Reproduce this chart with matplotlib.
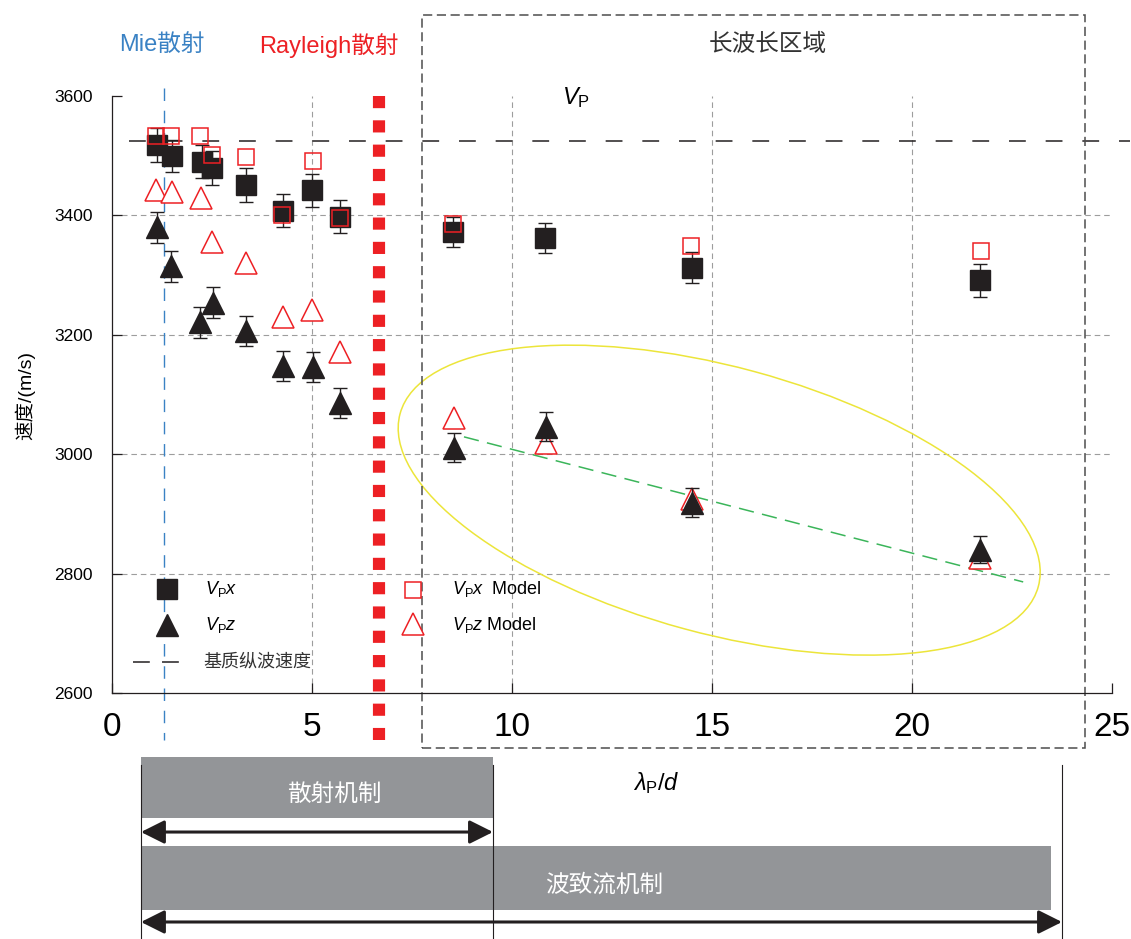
import numpy as np
import matplotlib
matplotlib.use('Agg')
import matplotlib.pyplot as plt
from matplotlib.patches import Ellipse, Rectangle
from matplotlib.transforms import ScaledTranslation

plt.rcParams['font.family'] = ['Liberation Sans', 'Noto Sans CJK SC']
plt.rcParams['mathtext.fontset'] = 'custom'
plt.rcParams['mathtext.rm'] = 'Liberation Sans'
plt.rcParams['mathtext.it'] = 'Liberation Sans:italic'
plt.rcParams['axes.unicode_minus'] = False

# 实测纵波速度 (波长/粒径)
lam_x = [1.12, 1.49, 2.24, 2.51, 3.35, 4.27, 5.01, 5.70, 8.53, 10.83, 14.49, 21.71]
vpx = [3518, 3499, 3490, 3479, 3451, 3408, 3442, 3398, 3372, 3362, 3312, 3291]
vpx_err = [28, 27, 28, 28, 28, 27, 28, 27, 25, 25, 26, 27]

lam_z = [1.13, 1.48, 2.21, 2.53, 3.35, 4.27, 5.03, 5.70, 8.54, 10.86, 14.49, 21.71]
vpz = [3380, 3315, 3221, 3254, 3206, 3148, 3146, 3086, 3011, 3046, 2919, 2840]
vpz_err = [26, 26, 26, 26, 25, 25, 25, 25, 24, 24, 24, 23]

# 模型计算值
lam_xm = [1.09, 1.48, 2.21, 2.50, 3.35, 4.26, 5.03, 5.70, 8.53, 14.48, 21.73]
vpx_model = [3533, 3533, 3533, 3501, 3498, 3401, 3491, 3395, 3386, 3349, 3340]
lam_zm = [1.11, 1.49, 2.22, 2.51, 3.35, 4.27, 5.01, 5.70, 8.54, 10.86, 14.49, 21.71]
vpz_model = [3443, 3439, 3429, 3355, 3320, 3230, 3241, 3171, 3061, 3018, 2925, 2826]

vp_matrix = 3525      # 基质纵波速度
mie_pos = 1.3
rayleigh_pos = 6.67
trend_x = [8.8, 22.78]
trend_y = [3029, 2786]

# 机制范围
mech_names = ['散射机制', '波致流机制']
mech_start = [0.725, 0.725]
mech_end = [9.525, 23.475]
arrow_end = [9.525, 23.75]

black = '#231f20'
red = '#ed2024'
blue = '#3a82c4'
gray = '#939598'
grid_c = '#9d9d9d'

fig = plt.figure(figsize=(11.31, 9.39), dpi=100)
ax = fig.add_axes([0.0990, 0.2620, 0.8842, 0.6358])
ax.set_xlim(0, 25)
ax.set_ylim(2600, 3600)
for s in ['top', 'right']:
    ax.spines[s].set_visible(False)
for s in ['left', 'bottom']:
    ax.spines[s].set_linewidth(0.9)
    ax.spines[s].set_color(black)
ax.tick_params(direction='in', length=7, width=0.9, color=black)
ax.set_xticks([0, 5, 10, 15, 20, 25])
ax.set_xticklabels(['0', '5', '10', '15', '20', '25'],
                   family=['Liberation Sans Narrow', 'Liberation Sans'], fontsize=24)
ax.tick_params(axis='x', pad=14)
ax.set_yticks([2600, 2800, 3000, 3200, 3400, 3600])
ax.tick_params(axis='y', labelsize=12.5, pad=14)

# 网格
for v in [5, 10, 15, 20]:
    ax.axvline(v, color=grid_c, lw=0.8, ls=(0, (5, 3.5)), zorder=0)
for v in [2800, 3000, 3200, 3400]:
    ax.axhline(v, color=grid_c, lw=0.8, ls=(0, (5, 3.5)), zorder=0)

# 基质速度线、散射分界线
ax.plot([0.42, 25.45], [vp_matrix, vp_matrix], color=black, lw=1.1,
        dashes=(11, 13), clip_on=False, zorder=1)
ax.plot([mie_pos, mie_pos], [3613, 2521], color=blue, lw=1.0,
        dashes=(9, 7), clip_on=False, zorder=1)
ax.plot([rayleigh_pos, rayleigh_pos], [3600, 2521], color=red, lw=8.75,
        dashes=(1, 1), dash_capstyle='butt', clip_on=False, zorder=1)

# 长波长区域
ax.add_patch(Rectangle((7.75, 2508), 24.33 - 7.75, 3736 - 2508, fill=False,
                       ec='#4d4d4d', lw=1.1, ls=(0, (6, 3)), clip_on=False, zorder=2))

# 椭圆和趋势线
ell = Ellipse((0, 0), width=6.612, height=2.666, angle=-15.15, fill=False,
              ec='#ece53a', lw=1.1,
              transform=fig.dpi_scale_trans + ScaledTranslation(15.18, 2923, ax.transData))
ax.add_patch(ell)
ax.plot(trend_x, trend_y, color='#3bb55a', lw=1.1, dashes=(10, 5.5), zorder=3)

# 数据点
ax.errorbar(lam_zm, vpz_model, fmt='^', ms=16.5, mfc='white', mec=red, mew=1.1,
            ls='none', zorder=3)
ax.errorbar(lam_z, vpz, yerr=vpz_err, fmt='^', ms=16.5, mfc=black, mec=black,
            ecolor=black, elinewidth=1, capsize=4.7, capthick=1, zorder=4)
ax.errorbar(lam_x, vpx, yerr=vpx_err, fmt='s', ms=15, mfc=black, mec=black,
            ecolor=black, elinewidth=1, capsize=4.7, capthick=1, zorder=4)
ax.errorbar(lam_xm, vpx_model, fmt='s', ms=11.5, mfc='none', mec=red, mew=1.1,
            ls='none', zorder=5)

# 标注
ax.text(1.25, 3685, 'Mie散射', color=blue, fontsize=17, ha='center', va='center')
ax.text(5.43, 3685, 'Rayleigh散射', color=red, fontsize=17, ha='center', va='center')
ax.text(16.4, 3685, '长波长区域', color='#333333', fontsize=17, ha='center', va='center')
ax.text(11.6, 3598, r'$V_{\mathrm{P}}$', fontsize=17, ha='center', va='center')

# 图例
T = ax.transAxes
ax.plot([0.055], [0.174], 's', ms=15, color=black, transform=T, clip_on=False)
ax.plot([0.055], [0.114], '^', ms=16.5, color=black, transform=T, clip_on=False)
ax.plot([0.021, 0.073], [0.052, 0.052], color=black, lw=1.1, dashes=(11, 8), transform=T)
ax.text(0.093, 0.174, r'$V_{\mathrm{P}}x$', fontsize=13, va='center', transform=T)
ax.text(0.093, 0.114, r'$V_{\mathrm{P}}z$', fontsize=13, va='center', transform=T)
ax.text(0.091, 0.052, '基质纵波速度', fontsize=13, va='center', color='#333333', transform=T)
ax.plot([0.301], [0.173], 's', ms=11.5, mfc='none', mec=red, mew=1.1, transform=T)
ax.plot([0.301], [0.116], '^', ms=16.5, mfc='white', mec=red, mew=1.1, transform=T)
ax.text(0.34, 0.174, r'$V_{\mathrm{P}}x$  Model', fontsize=13, va='center', transform=T)
ax.text(0.34, 0.114, r'$V_{\mathrm{P}}z$ Model', fontsize=13, va='center', transform=T)

fig.text(25 / 1131, 1 - 395 / 939, '速度/(m/s)', rotation=90, fontsize=14,
         ha='center', va='center')

# 下方机制示意
ax2 = fig.add_axes([0.0990, 0.0, 0.8842, 189 / 939])
ax2.set_xlim(0, 25)
ax2.set_ylim(0, 1)
ax2.axis('off')
bar_y = [0.8015, 0.3225]
bar_h = [0.323, 0.339]
arrow_y = [0.566, 0.090]
text_pos = [(5.55, 0.762), (12.3, 0.286)]
for i in range(2):
    ax2.barh(bar_y[i], mech_end[i] - mech_start[i], left=mech_start[i],
             height=bar_h[i], color=gray, zorder=1)
    ax2.text(text_pos[i][0], text_pos[i][1], mech_names[i], color='white',
             fontsize=17, ha='center', va='center', zorder=3)
    ax2.annotate('', xy=(arrow_end[i], arrow_y[i]), xytext=(mech_start[i], arrow_y[i]),
                 arrowprops=dict(arrowstyle='<|-|>,head_length=0.4,head_width=0.2',
                                 color=black, lw=2.2, mutation_scale=36,
                                 shrinkA=0, shrinkB=0), zorder=4)
for xv in [mech_start[0], mech_end[0], arrow_end[1]]:
    ax2.plot([xv, xv], [0, 0.921], color=black, lw=0.8, zorder=2)
ax2.text(13.6, 0.825, r'$\lambda_{\mathrm{P}}/d$', fontsize=17, ha='center', va='center')

fig.savefig('out.png', dpi=100)
